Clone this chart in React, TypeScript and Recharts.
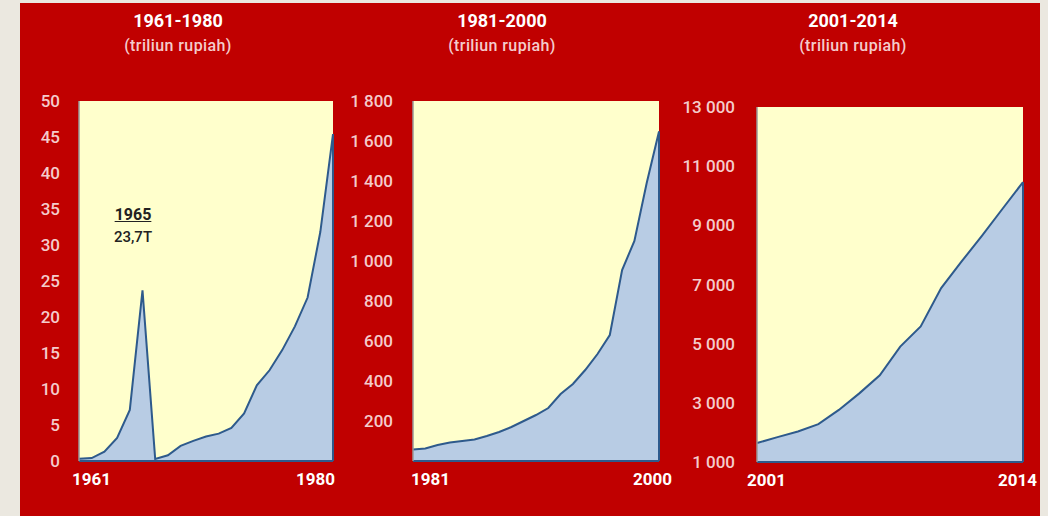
import { AreaChart, Area, XAxis, YAxis, CartesianGrid, ReferenceLine } from 'recharts'

// 1961-1980 (first point is the 1960 value, axis labelled 1961)
const YEARS_A = [1960, 1961, 1962, 1963, 1964, 1965, 1966, 1967, 1968, 1969, 1970, 1971, 1972, 1973, 1974, 1975, 1976, 1977, 1978, 1979, 1980]
const VALUES_A = [0.3, 0.4, 1.3, 3.2, 7.1, 23.7, 0.3, 0.8, 2.1, 2.8, 3.4, 3.8, 4.6, 6.6, 10.5, 12.6, 15.4, 18.7, 22.7, 31.8, 45.4]
const XLABELS_A = ['1961', '1980']
const YTICKS_A = [0, 5, 10, 15, 20, 25, 30, 35, 40, 45, 50]

// 1981-2000
const YEARS_B = [1981, 1982, 1983, 1984, 1985, 1986, 1987, 1988, 1989, 1990, 1991, 1992, 1993, 1994, 1995, 1996, 1997, 1998, 1999, 2000, 2001]
const VALUES_B = [58, 63, 80, 92, 100, 108, 125, 145, 170, 200, 230, 265, 335, 385, 455, 535, 630, 955, 1100, 1390, 1647]
const XLABELS_B = ['1981', '2000']
const YTICKS_B = [200, 400, 600, 800, 1000, 1200, 1400, 1600, 1800]

// 2001-2014
const YEARS_C = [2001, 2002, 2003, 2004, 2005, 2006, 2007, 2008, 2009, 2010, 2011, 2012, 2013, 2014]
const VALUES_C = [1640, 1840, 2030, 2280, 2760, 3320, 3930, 4900, 5580, 6880, 7780, 8650, 9560, 10460]
const XLABELS_C = ['2001', '2014']
const YTICKS_C = [1000, 3000, 5000, 7000, 9000, 11000, 13000]

const RED = '#c00000'
const PLOT_BG = '#ffffcc'
const AREA_FILL = '#b8cce4'
const LINE = '#2e5a8c'
const TICK_PINK = '#f4cccc'
const FONT = 'Roboto, "Noto Sans", sans-serif'

function fmtY(v: number) {
  if (v < 1000) return String(v)
  return `${Math.floor(v / 1000)} ${String(v % 1000).padStart(3, '0')}`
}

interface PanelProps {
  years: number[]
  values: number[]
  xLabels: string[]
  yTicks: number[]
  domain: [number, number]
  left: number
  width: number
  yAxisWidth: number
  top: number
  bottom: number
  right: number
  tickGap: number
  shiftStart: number
  shiftEnd: number
}

function Panel(p: PanelProps) {
  const rows = p.years.map((y, i) => ({ year: y, v: p.values[i] }))
  const last = p.years[p.years.length - 1]
  const lastVal = p.values[p.values.length - 1]
  const xTick = (props: any) => {
    const { x, y, index } = props
    if (index !== 0 && index !== rows.length - 1) return <g />
    const first = index === 0
    return (
      <text
        x={x + (first ? p.shiftStart : p.shiftEnd)}
        y={y + 24}
        textAnchor={first ? 'start' : 'end'}
        fill="#ffffff"
        fontSize={17}
        fontWeight={700}
        fontFamily={FONT}
      >
        {first ? p.xLabels[0] : p.xLabels[1]}
      </text>
    )
  }
  return (
    <div style={{ position: 'absolute', left: p.left, top: 60 }}>
      <AreaChart width={p.width} height={456} data={rows} margin={{ top: p.top, right: p.right, bottom: p.bottom, left: 0 }}>
        <CartesianGrid horizontal={false} vertical={false} fill={PLOT_BG} />
        <XAxis
          dataKey="year"
          height={30}
          interval={0}
          tickLine={false}
          tickSize={0}
          tickMargin={0}
          axisLine={{ stroke: LINE, strokeWidth: 2 }}
          tick={xTick}
        />
        <YAxis
          width={p.yAxisWidth}
          domain={p.domain}
          ticks={p.yTicks}
          interval={0}
          tickLine={false}
          tickSize={0}
          tickMargin={p.tickGap}
          tickFormatter={fmtY}
          axisLine={{ stroke: '#9a9a9a', strokeWidth: 1.5 }}
          tick={{ fill: TICK_PINK, fontSize: 17, fontWeight: 500, fontFamily: FONT }}
        />
        <Area
          type="linear"
          dataKey="v"
          stroke={LINE}
          strokeWidth={2}
          fill={AREA_FILL}
          fillOpacity={1}
          dot={false}
          activeDot={false}
          isAnimationActive={false}
        />
        <ReferenceLine
          segment={[{ x: last, y: p.domain[0] }, { x: last, y: lastVal }]}
          stroke={LINE}
          strokeWidth={2}
        />
      </AreaChart>
    </div>
  )
}

function Title({ cx, title }: { cx: number; title: string }) {
  return (
    <>
      <div style={{ position: 'absolute', left: cx - 100, width: 200, top: 9, textAlign: 'center', color: '#fff', fontWeight: 700, fontSize: 18, fontFamily: FONT, lineHeight: '24px' }}>
        {title}
      </div>
      <div style={{ position: 'absolute', left: cx - 100, width: 200, top: 35, textAlign: 'center', color: TICK_PINK, fontSize: 16, fontWeight: 500, fontFamily: FONT, lineHeight: '22px', letterSpacing: 0.4 }}>
        (triliun rupiah)
      </div>
    </>
  )
}

export default function App() {
  return (
    <div style={{ position: 'relative', width: 1048, height: 516, background: '#ebe8e0', overflow: 'hidden' }}>
      <style>{'body{margin:0;background:#ebe8e0}'}</style>
      <div style={{ position: 'absolute', left: 20, top: 3, width: 1020, height: 513, background: RED }} />

      <Title cx={178} title="1961-1980" />
      <Title cx={502} title="1981-2000" />
      <Title cx={853} title="2001-2014" />

      <Panel years={YEARS_A} values={VALUES_A} xLabels={XLABELS_A} yTicks={YTICKS_A} domain={[0, 50]}
        left={20} width={330} yAxisWidth={59} top={41} bottom={25} right={17} tickGap={19} shiftStart={-7} shiftEnd={2} />
      <Panel years={YEARS_B} values={VALUES_B} xLabels={XLABELS_B} yTicks={YTICKS_B} domain={[0, 1800]}
        left={340} width={340} yAxisWidth={73} top={41} bottom={25} right={21} tickGap={20} shiftStart={-2} shiftEnd={13} />
      <Panel years={YEARS_C} values={VALUES_C} xLabels={XLABELS_C} yTicks={YTICKS_C} domain={[1000, 13000]}
        left={680} width={360} yAxisWidth={77} top={47} bottom={24} right={17} tickGap={22} shiftStart={-10} shiftEnd={14} />

      <div style={{ position: 'absolute', left: 93, width: 80, top: 205, textAlign: 'center', color: '#222', fontFamily: FONT, fontSize: 16, fontWeight: 700, textDecoration: 'underline', lineHeight: '20px' }}>
        1965
      </div>
      <div style={{ position: 'absolute', left: 93, width: 80, top: 227, textAlign: 'center', color: '#222', fontFamily: FONT, fontSize: 15, fontWeight: 500, lineHeight: '20px' }}>
        23,7T
      </div>
    </div>
  )
}
